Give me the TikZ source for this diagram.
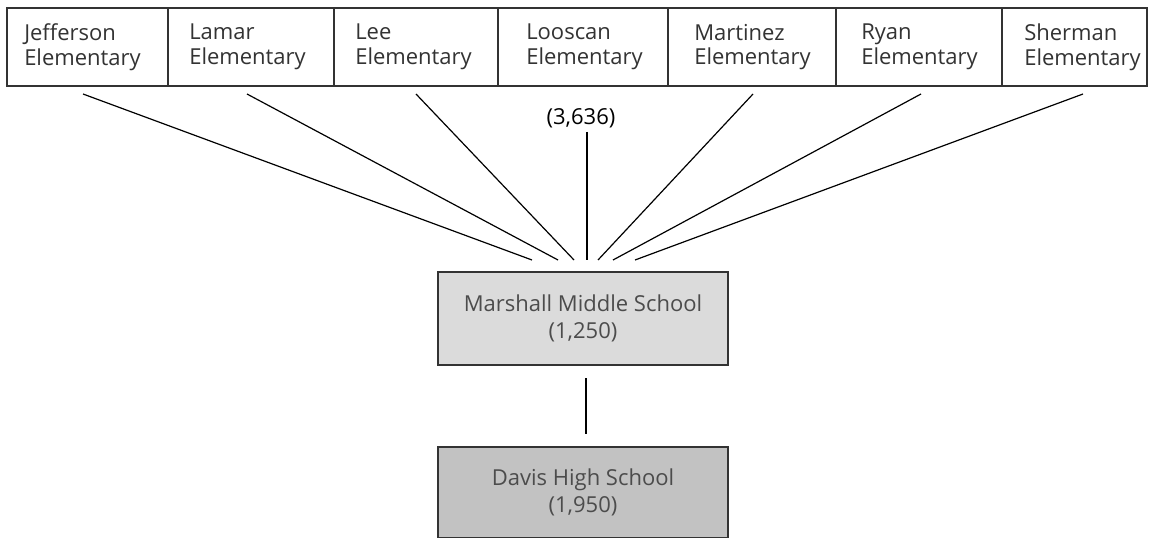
\documentclass[tikz,border=0pt]{standalone}
\usepackage{fontspec}
\setmainfont{Open Sans}
\begin{document}
\begin{tikzpicture}[x=0.75pt,y=-0.75pt,
  font=\fontsize{16.5}{18.5}\selectfont,
  topbox/.style={draw=black!80, line width=1.1pt, fill=white, minimum height=58.5pt, inner sep=0pt},
  toptext/.style={anchor=west, align=left, text=black!80, inner sep=0pt},
  midbox/.style={draw=black!80, line width=1.1pt, fill=black!14, minimum width=217.5pt, minimum height=69.75pt, align=center, text=black!70, font=\fontsize{16.5}{20}\selectfont},
  highbox/.style={draw=black!80, line width=1.1pt, fill=black!24, minimum width=217.5pt, minimum height=68.25pt, align=center, text=black!70, font=\fontsize{16.5}{20}\selectfont},
  conn/.style={line width=0.9pt, black}
]
\useasboundingbox (0,0) rectangle (1149,538);

% top boxes
\node[topbox, minimum width=120.75pt] (jb) at (87.5,47) {};
\node[topbox, minimum width=124.5pt]  (lab) at (251,47) {};
\node[topbox, minimum width=123pt]    (leb) at (416,47) {};
\node[topbox, minimum width=127.5pt]  (lob) at (583,47) {};
\node[topbox, minimum width=126pt]    (mab) at (752,47) {};
\node[topbox, minimum width=124.5pt]  (rb) at (919,47) {};
\node[topbox, minimum width=108.75pt] (sb) at (1074.5,47) {};

\node[toptext] (jt)  at (24,47)   {Jefferson\\Elementary};
\node[toptext] (lat) at (189,47)  {Lamar\\Elementary};
\node[toptext] (let) at (355,47)  {Lee\\Elementary};
\node[toptext] (lot) at (526,47)  {Looscan\\Elementary};
\node[toptext] (mat) at (694,47)  {Martinez\\Elementary};
\node[toptext] (rt)  at (861,47)  {Ryan\\Elementary};
\node[toptext] (st)  at (1024,47) {Sherman\\Elementary};

% middle and high school
\node[midbox]  (mid)  at (583,318.5) {Marshall Middle School\\(1,250)};
\node[highbox] (high) at (583,492.5) {Davis High School\\(1,950)};

% total label
\node[inner sep=0pt, text=black] (tot) at (581,118) {(3,636)};

% start points below the elementary boxes
\coordinate (sj)  at (83,94);
\coordinate (sla) at (247,94);
\coordinate (sle) at (416,94);
\coordinate (slo) at (587,132);
\coordinate (sma) at (753,94);
\coordinate (sr)  at (921,94);
\coordinate (ss)  at (1083,94);
% end points above the middle school box
\coordinate (ej)  at (532,260);
\coordinate (ela) at (558,260);
\coordinate (ele) at (574,260);
\coordinate (elo) at (587,260);
\coordinate (ema) at (598,260);
\coordinate (er)  at (613,260);
\coordinate (es)  at (635,260);

\draw[conn] (sj) -- (ej);
\draw[conn] (sla) -- (ela);
\draw[conn] (sle) -- (ele);
\draw[conn] (slo) -- (elo);
\draw[conn] (sma) -- (ema);
\draw[conn] (sr) -- (er);
\draw[conn] (ss) -- (es);

\coordinate (m1) at (586,378);
\coordinate (m2) at (586,434);
\draw[conn] (m1) -- (m2);
\end{tikzpicture}
\end{document}
